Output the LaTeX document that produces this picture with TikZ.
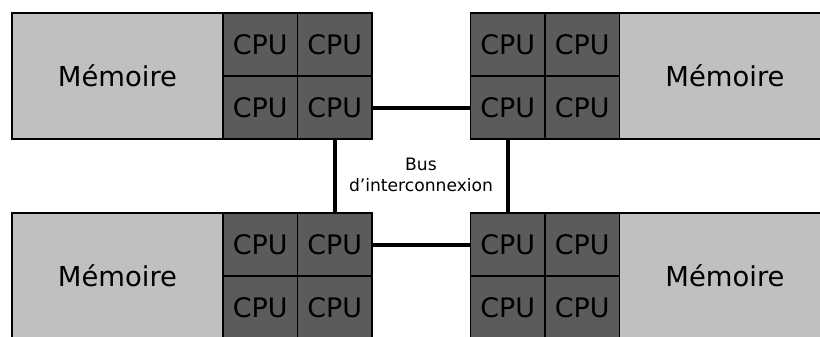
\documentclass[tikz,border=0pt]{standalone}
\usepackage{fontspec}
\setmainfont{DejaVu Sans}
\usepackage{xcolor}
\usetikzlibrary{positioning}
\definecolor{memgris}{HTML}{C0C0C0}
\definecolor{cpugris}{HTML}{5B5B5B}

\begin{document}
\begin{tikzpicture}[x=1bp, y=-1bp,
	memoire/.style={fill=memgris, draw, line width=1.6bp, minimum width=211bp, minimum height=126bp, inner sep=0pt, font=\fontsize{27.5}{32}\selectfont},
	cpu/.style={fill=cpugris, draw, line width=1.3bp, minimum width=74.5bp, minimum height=63bp, inner sep=0pt, font=\fontsize{27}{32}\selectfont},
	bus/.style={line width=4bp}]
			\useasboundingbox (0,0) rectangle (820,336);
			\clip (0,0) rectangle (820,336);
			% les memoires
			\foreach \grp/\x/\y in {HG/117.5/76, HD/725/76, BG/117.5/276, BD/725/276}
			{
				\node[memoire] (mem\grp) at (\x,\y) {Mémoire};
			}
			% les processeurs
			\foreach \grp/\x/\y in {HG/223/13, HD/470.5/13, BG/223/213, BD/470.5/213}{
			\foreach \dx/\dy [count=\i] in {0/0, 1/0, 0/1, 1/1}
			{
				\node[cpu] (cpu\grp-\i) at (\x+37.25+\dx*74.5, \y+31.5+\dy*63) {CPU};
			}}
			\node[align=center, font=\fontsize{17.2}{21}\selectfont] (bus) at (421,175) {Bus\\d'interconnexion};
			\draw[bus] (cpuHG-4.east) -- (cpuHD-3.west);
			\draw[bus] (cpuHG-4.south) -- (cpuBG-2.north);
			\draw[bus] (cpuHD-3.south) -- (cpuBD-1.north);
			\draw[bus] (cpuBG-2.east) -- (cpuBD-1.west);
		\end{tikzpicture}
\end{document}
